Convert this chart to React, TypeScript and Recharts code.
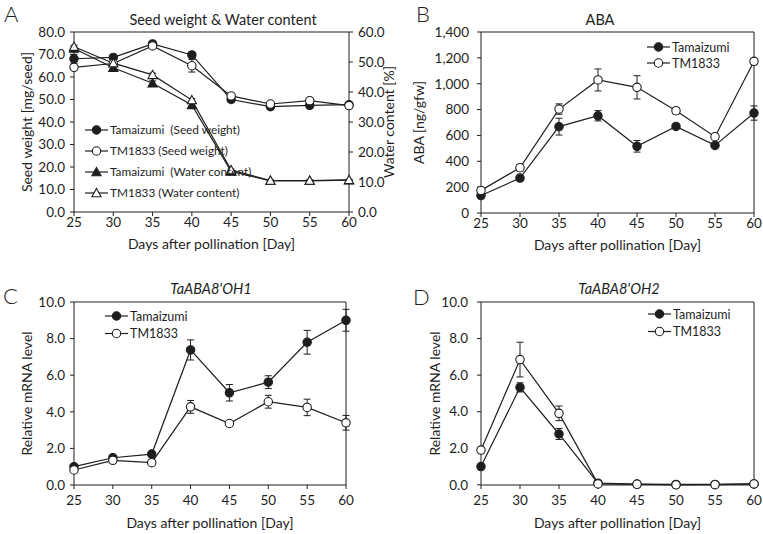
import React from 'react';
import { LineChart, Line, XAxis, YAxis, ErrorBar, ReferenceLine, Legend } from 'recharts';

const INK = '#1e1e1e';
const FONT = 'Lato, "Noto Sans", sans-serif';

const days = [25, 30, 35, 40, 45, 50, 55, 60];

// A: seed weight [mg/seed] (left) and water content [%] (right)
const seedTamaizumi = [68.1, 68.7, 74.7, 69.8, 50.0, 46.8, 47.4, 47.7];
const seedTamaizumiErr = [2.0, 1.0, 0.8, 1.0, 0.6, 0.5, 0.5, 0.5];
const seedTM1833 = [64.3, 66.0, 73.8, 65.0, 51.6, 48.0, 49.5, 47.3];
const seedTM1833Err = [0.8, 0.8, 1.0, 2.8, 0.6, 0.8, 0.5, 0.5];
const waterTamaizumi = [54.5, 48.1, 42.9, 35.7, 13.5, 10.4, 10.4, 10.6];
const waterTamaizumiErr = [0.5, 0.5, 0.8, 0.5, 0.3, 0.2, 0.2, 0.2];
const waterTM1833 = [55.1, 49.6, 45.7, 37.3, 14.0, 10.5, 10.5, 10.7];
const waterTM1833Err = [0.5, 0.4, 0.6, 0.5, 0.3, 0.2, 0.2, 0.2];

// B: ABA [ng/gfw]
const abaTamaizumi = [135, 270, 668, 752, 516, 670, 523, 773];
const abaTamaizumiErr = [15, 15, 65, 40, 45, 15, 15, 55];
const abaTM1833 = [175, 350, 804, 1029, 972, 791, 590, 1173];
const abaTM1833Err = [15, 25, 40, 85, 90, 25, 15, 20];

// C: TaABA8'OH1 relative mRNA level
const oh1Tamaizumi = [1.0, 1.49, 1.69, 7.38, 5.04, 5.62, 7.8, 9.0];
const oh1TamaizumiErr = [0.05, 0.05, 0.05, 0.55, 0.45, 0.35, 0.65, 0.6];
const oh1TM1833 = [0.82, 1.35, 1.22, 4.27, 3.36, 4.55, 4.24, 3.4];
const oh1TM1833Err = [0.05, 0.08, 0.05, 0.35, 0.08, 0.35, 0.45, 0.4];

// D: TaABA8'OH2 relative mRNA level
const oh2Tamaizumi = [1.0, 5.33, 2.78, 0.09, 0.04, 0.02, 0.02, 0.05];
const oh2TamaizumiErr = [0.05, 0.25, 0.3, 0.02, 0.01, 0.01, 0.01, 0.01];
const oh2TM1833 = [1.9, 6.85, 3.91, 0.05, 0.03, 0.0, 0.01, 0.05];
const oh2TM1833Err = [0.05, 0.95, 0.4, 0.02, 0.01, 0.01, 0.01, 0.01];

const seedTicks = [0, 10, 20, 30, 40, 50, 60, 70, 80];
const waterTicks = [0, 10, 20, 30, 40, 50, 60];
const abaTicks = [0, 200, 400, 600, 800, 1000, 1200, 1400];
const mrnaTicks = [0, 2, 4, 6, 8, 10];

const rowsA = days.map((day, i) => ({
  day,
  seedT: seedTamaizumi[i], seedTErr: seedTamaizumiErr[i],
  seedM: seedTM1833[i], seedMErr: seedTM1833Err[i],
  waterT: waterTamaizumi[i], waterTErr: waterTamaizumiErr[i],
  waterM: waterTM1833[i], waterMErr: waterTM1833Err[i],
}));
const rowsB = days.map((day, i) => ({
  day, t: abaTamaizumi[i], tErr: abaTamaizumiErr[i], m: abaTM1833[i], mErr: abaTM1833Err[i],
}));
const rowsC = days.map((day, i) => ({
  day, t: oh1Tamaizumi[i], tErr: oh1TamaizumiErr[i], m: oh1TM1833[i], mErr: oh1TM1833Err[i],
}));
const rowsD = days.map((day, i) => ({
  day, t: oh2Tamaizumi[i], tErr: oh2TamaizumiErr[i], m: oh2TM1833[i], mErr: oh2TM1833Err[i],
}));

type Shape = 'circle' | 'triangle';
type Marker = { shape: Shape; filled: boolean };

const drawMarker = (m: Marker, cx: number, cy: number, key?: string) => {
  const fill = m.filled ? INK : '#fff';
  if (m.shape === 'circle') {
    return <circle key={key} cx={cx} cy={cy} r={4.2} fill={fill} stroke={INK} strokeWidth={1.1} />;
  }
  const s = 4.6;
  return (
    <polygon
      key={key}
      points={`${cx},${cy - s} ${cx + s},${cy + s * 0.8} ${cx - s},${cy + s * 0.8}`}
      fill={fill}
      stroke={INK}
      strokeWidth={1.1}
    />
  );
};

const makeDot = (m: Marker) => (props: any) => {
  const { cx, cy, index } = props;
  if (cx == null || cy == null) return <g key={`d-${index}`} />;
  return drawMarker(m, cx, cy, `d-${index}`);
};

const FILLED_CIRCLE: Marker = { shape: 'circle', filled: true };
const OPEN_CIRCLE: Marker = { shape: 'circle', filled: false };
const FILLED_TRI: Marker = { shape: 'triangle', filled: true };
const OPEN_TRI: Marker = { shape: 'triangle', filled: false };

const markerByKey: Record<string, Marker> = {
  seedT: FILLED_CIRCLE,
  seedM: OPEN_CIRCLE,
  waterT: FILLED_TRI,
  waterM: OPEN_TRI,
  t: FILLED_CIRCLE,
  m: OPEN_CIRCLE,
};
// legend rows follow the series order of the original figure
const legendOrder = ['seedT', 'seedM', 'waterT', 'waterM', 't', 'm'];

const makeLegend = (rowGap: number, fontSize: number, width: number) => (props: any) => {
  const payload = [...(props.payload || [])].sort(
    (a: any, b: any) => legendOrder.indexOf(a.dataKey) - legendOrder.indexOf(b.dataKey)
  );
  return (
    <svg width={width} height={rowGap * payload.length + 6} style={{ overflow: 'visible', display: 'block' }}>
      {payload.map((entry: any, i: number) => {
        const y = 8 + i * rowGap;
        const m = markerByKey[entry.dataKey] || FILLED_CIRCLE;
        return (
          <g key={`lg-${i}`}>
            <line x1={1} x2={24} y1={y} y2={y} stroke={INK} strokeWidth={1.2} />
            {drawMarker(m, 12.5, y)}
            <text
              x={26}
              y={y}
              dy="0.36em"
              fontSize={fontSize}
              fontFamily={FONT}
              fill={INK}
              style={{ whiteSpace: 'pre' }}
            >
              {entry.value}
            </text>
          </g>
        );
      })}
    </svg>
  );
};

const tickStyle = { fill: INK, fontSize: 13.5, fontFamily: FONT };
const labelStyle = { fill: INK, fontSize: 14, fontFamily: FONT };
const fmt1 = (v: number) => v.toFixed(1);
const fmtComma = (v: number) => v.toLocaleString('en-US');
const blank = () => '';

const lineProps = {
  type: 'linear' as const,
  stroke: INK,
  strokeWidth: 1.2,
  isAnimationActive: false,
  activeDot: false,
};

const errProps = { width: 3.5, strokeWidth: 1, stroke: INK, direction: 'y' as const };

const xAxis = (offset: number, tickMargin: number, height: number) => (
  <XAxis
    dataKey="day"
    type="number"
    domain={[25, 60]}
    ticks={days}
    interval={0}
    height={height}
    tickSize={4}
    tickMargin={tickMargin}
    stroke={INK}
    tick={tickStyle}
    label={{ value: 'Days after pollination [Day]', position: 'insideBottom', offset, ...labelStyle }}
  />
);

const PanelA = () => (
  <LineChart width={410} height={267} data={rowsA} margin={{ top: 32, right: 0, bottom: 10, left: 0 }}>
    {xAxis(8, 1, 45)}
    <YAxis
      yAxisId="left"
      domain={[0, 80]}
      ticks={seedTicks}
      interval={0}
      tickFormatter={fmt1}
      width={74}
      tickSize={4}
      tickMargin={5}
      stroke={INK}
      tick={tickStyle}
      label={{ value: 'Seed weight [mg/seed]', angle: -90, position: 'insideLeft', offset: 27, style: { textAnchor: 'middle' }, ...labelStyle }}
    />
    <YAxis
      yAxisId="right"
      orientation="right"
      domain={[0, 60]}
      ticks={waterTicks}
      interval={0}
      tickFormatter={fmt1}
      width={61}
      tickSize={4}
      tickMargin={5}
      stroke={INK}
      tick={tickStyle}
      label={{ value: 'Water content [%]', angle: -90, position: 'insideRight', offset: 21, style: { textAnchor: 'middle' }, ...labelStyle }}
    />
    <ReferenceLine yAxisId="left" y={80} stroke={INK} strokeWidth={1} />
    <Line {...lineProps} yAxisId="left" dataKey="seedT" name="Tamaizumi  (Seed weight)" dot={makeDot(FILLED_CIRCLE)}>
      <ErrorBar dataKey="seedTErr" {...errProps} />
    </Line>
    <Line {...lineProps} yAxisId="left" dataKey="seedM" name="TM1833 (Seed weight)" dot={makeDot(OPEN_CIRCLE)}>
      <ErrorBar dataKey="seedMErr" {...errProps} />
    </Line>
    <Line {...lineProps} yAxisId="right" dataKey="waterT" name="Tamaizumi  (Water content)" dot={makeDot(FILLED_TRI)}>
      <ErrorBar dataKey="waterTErr" {...errProps} />
    </Line>
    <Line {...lineProps} yAxisId="right" dataKey="waterM" name="TM1833 (Water content)" dot={makeDot(OPEN_TRI)}>
      <ErrorBar dataKey="waterMErr" {...errProps} />
    </Line>
    <Legend
      layout="vertical"
      align="center"
      verticalAlign="middle"
      wrapperStyle={{ left: 84, top: 122 }}
      content={makeLegend(21, 11.8, 180)}
    />
  </LineChart>
);

const PanelB = () => (
  <LineChart width={363} height={267} data={rowsB} margin={{ top: 32, right: 0, bottom: 10, left: 0 }}>
    {xAxis(7, 1, 44)}
    <YAxis
      domain={[0, 1400]}
      ticks={abaTicks}
      interval={0}
      tickFormatter={fmtComma}
      width={81}
      tickSize={4}
      tickMargin={8}
      stroke={INK}
      tick={tickStyle}
      label={{ value: 'ABA [ng/gfw]', angle: -90, position: 'insideLeft', offset: 19, style: { textAnchor: 'middle' }, ...labelStyle }}
    />
    <YAxis
      yAxisId="mirror"
      orientation="right"
      domain={[0, 1400]}
      ticks={abaTicks}
      interval={0}
      tickFormatter={blank}
      width={9}
      tickSize={3}
      stroke={INK}
    />
    <ReferenceLine y={1400} stroke={INK} strokeWidth={1} />
    <Line {...lineProps} dataKey="t" name="Tamaizumi" dot={makeDot(FILLED_CIRCLE)}>
      <ErrorBar dataKey="tErr" {...errProps} />
    </Line>
    <Line {...lineProps} dataKey="m" name="TM1833" dot={makeDot(OPEN_CIRCLE)}>
      <ErrorBar dataKey="mErr" {...errProps} />
    </Line>
    <Legend
      layout="vertical"
      align="center"
      verticalAlign="middle"
      wrapperStyle={{ left: 246, top: 39 }}
      content={makeLegend(16, 12.5, 100)}
    />
  </LineChart>
);

const MrnaPanel = ({ rows, yWidth, tickMargin, labelOffset, legendLeft, legendTop, width }: any) => (
  <LineChart width={width} height={267} data={rows} margin={{ top: 35, right: 0, bottom: 4, left: 0 }}>
    {xAxis(2, 6, 45)}
    <YAxis
      domain={[0, 10]}
      ticks={mrnaTicks}
      interval={0}
      tickFormatter={fmt1}
      width={yWidth}
      tickSize={4}
      tickMargin={tickMargin}
      stroke={INK}
      tick={tickStyle}
      label={{ value: 'Relative mRNA level', angle: -90, position: 'insideLeft', offset: labelOffset, style: { textAnchor: 'middle' }, ...labelStyle }}
    />
    <YAxis
      yAxisId="mirror"
      orientation="right"
      domain={[0, 10]}
      ticks={mrnaTicks}
      interval={0}
      tickFormatter={blank}
      width={width === 380 ? 34 : 9}
      tickSize={3}
      stroke={INK}
    />
    <ReferenceLine y={10} stroke={INK} strokeWidth={1} />
    <Line {...lineProps} dataKey="t" name="Tamaizumi" dot={makeDot(FILLED_CIRCLE)}>
      <ErrorBar dataKey="tErr" {...errProps} />
    </Line>
    <Line {...lineProps} dataKey="m" name="TM1833" dot={makeDot(OPEN_CIRCLE)}>
      <ErrorBar dataKey="mErr" {...errProps} />
    </Line>
    <Legend
      layout="vertical"
      align="center"
      verticalAlign="middle"
      wrapperStyle={{ left: legendLeft, top: legendTop }}
      content={makeLegend(17.5, 12.5, 100)}
    />
  </LineChart>
);

export default function App() {
  return (
    <div style={{ position: 'absolute', left: 0, top: 0, width: 763, height: 534, background: '#fff', fontFamily: FONT }}>
      <div style={{ position: 'absolute', left: 0, top: 0 }}>
        <PanelA />
      </div>
      <div style={{ position: 'absolute', left: 400, top: 0 }}>
        <PanelB />
      </div>
      <div style={{ position: 'absolute', left: 0, top: 267 }}>
        <MrnaPanel rows={rowsC} width={380} yWidth={74} tickMargin={5} labelOffset={27} legendLeft={104} legendTop={41} />
      </div>
      <div style={{ position: 'absolute', left: 400, top: 267 }}>
        <MrnaPanel rows={rowsD} width={363} yWidth={81} tickMargin={9} labelOffset={35} legendLeft={247} legendTop={39} />
      </div>
      <svg
        width={763}
        height={534}
        style={{ position: 'absolute', left: 0, top: 0, pointerEvents: 'none' }}
        fontFamily={FONT}
        fill={INK}
      >
        <text x={4} y={22} fontSize={22} fontWeight={300}>A</text>
        <text x={416} y={22} fontSize={22} fontWeight={300}>B</text>
        <text x={3} y={304} fontSize={22} fontWeight={300}>C</text>
        <text x={413} y={305} fontSize={22} fontWeight={300}>D</text>
        <text x={223} y={25} fontSize={14.5} textAnchor="middle">Seed weight &amp; Water content</text>
        <text x={600} y={25} fontSize={14.5} textAnchor="middle">ABA</text>
        <text x={211} y={294} fontSize={14.5} fontStyle="italic" textAnchor="middle">TaABA8'OH1</text>
        <text x={619} y={294} fontSize={14.5} fontStyle="italic" textAnchor="middle">TaABA8'OH2</text>
      </svg>
    </div>
  );
}
